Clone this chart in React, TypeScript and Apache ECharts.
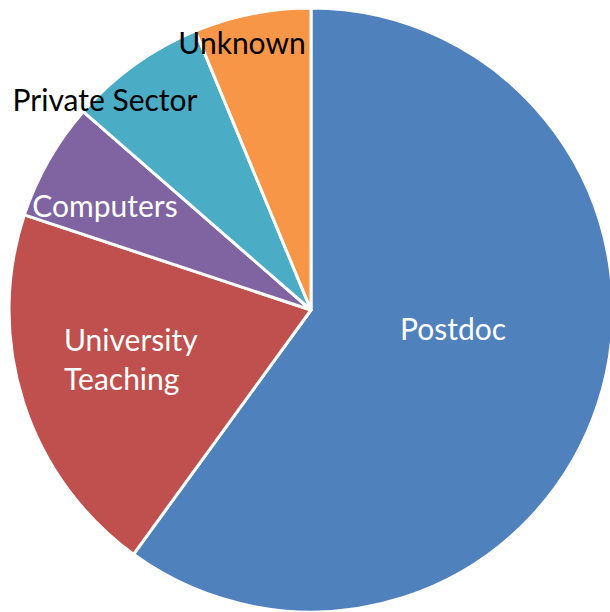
import React, { useEffect, useRef } from "react";
import * as echarts from "echarts";

const categories = ["Postdoc", "University Teaching", "Computers", "Private Sector", "Unknown"];
const values = [60.0, 20.1, 6.3, 7.35, 6.25];
const colors = ["#4F81BD", "#C0504D", "#8064A2", "#4BACC6", "#F79646"];
const labelTexts = ["Postdoc", "University\nTeaching", "Computers", "Private Sector", "Unknown"];
const labelColors = ["#ffffff", "#ffffff", "#ffffff", "#000000", "#000000"];

// label anchor positions (layout only)
const labelPos = [
  { x: 453, y: 328, align: "center" },
  { x: 64, y: 358, align: "left" },
  { x: 105, y: 205, align: "center" },
  { x: 105, y: 99, align: "center" },
  { x: 242, y: 42, align: "center" },
];

export default function App() {
  const ref = useRef<HTMLDivElement>(null);
  useEffect(() => {
    if (!ref.current) return;
    const chart = echarts.init(ref.current, null, { renderer: "svg" });
    chart.setOption({
      animation: false,
      backgroundColor: "#ffffff",
      series: [
        {
          type: "pie",
          center: [311, 310],
          radius: [0, 302],
          startAngle: 90,
          clockwise: true,
          avoidLabelOverlap: false,
          itemStyle: { borderColor: "#ffffff", borderWidth: 3 },
          label: {
            show: true,
            position: "inside",
            fontFamily: "Lato",
            fontSize: 30,
            lineHeight: 39,
          },
          labelLine: { show: false },
          emphasis: { disabled: true },
          labelLayout: (params: any) => {
            const p = labelPos[params.dataIndex];
            return { x: p.x, y: p.y, align: p.align, verticalAlign: "middle" };
          },
          data: categories.map((c, i) => ({
            name: c,
            value: values[i],
            itemStyle: { color: colors[i] },
            label: {
              formatter: labelTexts[i],
              color: labelColors[i],
              align: labelPos[i].align,
            },
          })),
        },
      ],
    });
    return () => chart.dispose();
  }, []);
  return (
    <div
      ref={ref}
      style={{ position: "fixed", left: 0, top: 0, width: 610, height: 612 }}
    />
  );
}
